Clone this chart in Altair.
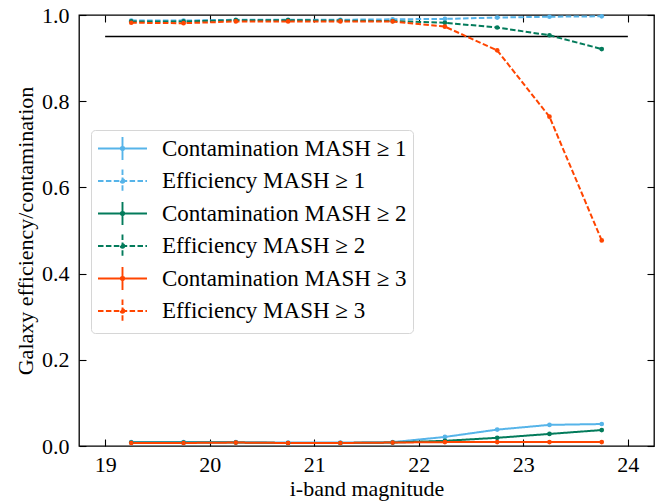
import altair as alt
import pandas as pd

# ---------------- data ----------------
mag = [19.25, 19.75, 20.25, 20.75, 21.25, 21.75, 22.25, 22.75, 23.25, 23.75]

cont_1 = [0.009, 0.009, 0.009, 0.008, 0.008, 0.009, 0.021, 0.038, 0.049, 0.051]
eff_1 = [0.987, 0.987, 0.989, 0.989, 0.989, 0.990, 0.991, 0.994, 0.996, 0.997]
cont_2 = [0.008, 0.008, 0.008, 0.007, 0.007, 0.008, 0.012, 0.019, 0.028, 0.037]
eff_2 = [0.985, 0.985, 0.988, 0.988, 0.987, 0.986, 0.982, 0.971, 0.953, 0.921]
cont_3 = [0.007, 0.007, 0.008, 0.007, 0.007, 0.008, 0.009, 0.009, 0.009, 0.009]
eff_3 = [0.982, 0.981, 0.985, 0.985, 0.985, 0.985, 0.973, 0.918, 0.764, 0.477]

series_names = [
    "Contamination MASH \u2265 1",
    "Efficiency MASH \u2265 1",
    "Contamination MASH \u2265 2",
    "Efficiency MASH \u2265 2",
    "Contamination MASH \u2265 3",
    "Efficiency MASH \u2265 3",
]
series_values = [cont_1, eff_1, cont_2, eff_2, cont_3, eff_3]

colors = ["#56B4E9", "#56B4E9", "#037b5b", "#037b5b", "#FF4500", "#FF4500"]
dashes = [[1, 0], [5.5, 2.4], [1, 0], [5.5, 2.4], [1, 0], [5.5, 2.4]]

x_ticks = [19, 20, 21, 22, 23, 24]
y_ticks = [0.0, 0.2, 0.4, 0.6, 0.8, 1.0]
x_domain = [18.75, 24.25]
y_domain = [0.0, 1.0]

ref_x = [19, 24]
ref_y = 0.95

# ---------------- tables ----------------
rows = []
for name, vals in zip(series_names, series_values):
    for m, v in zip(mag, vals):
        rows.append({"mag": m, "value": v, "series": name})
df = pd.DataFrame(rows)

ref_df = pd.DataFrame({"x": [ref_x[0]], "x2": [ref_x[1]], "y": [ref_y]})

FONT = "Liberation Serif"
FS = 22
LFS = 23
TICK = 7

x_scale = alt.Scale(domain=x_domain, nice=False, zero=False)
y_scale = alt.Scale(domain=y_domain, nice=False, zero=False)

# legend handle: horizontal line (49 px), vertical error bar (23 px), dot
legend_symbol = (
    "M-1,0H3.26M1.13,-1V1"
    "M1.28,0A0.15,0.15,0,1,1,0.98,0A0.15,0.15,0,1,1,1.28,0"
)

legend = alt.Legend(
    title=None,
    orient="none",
    legendX=12,
    legendY=115,
    symbolType=legend_symbol,
    symbolSize=529,
    symbolStrokeWidth=1.9,
    labelFont=FONT,
    labelFontSize=LFS,
    labelOffset=40,
    labelLimit=500,
    rowPadding=1.5,
    padding=6,
    fillColor="white",
    strokeColor="#d6d6d6",
    cornerRadius=4,
)

lines = alt.Chart(df).mark_line(
    strokeWidth=2,
    point=alt.OverlayMarkDef(filled=True, size=22),
).encode(
    x=alt.X(
        "mag:Q",
        scale=x_scale,
        axis=alt.Axis(
            orient="bottom",
            values=x_ticks,
            format="d",
            title="i-band magnitude",
            offset=-TICK,
            tickSize=TICK,
            labelPadding=8,
            titlePadding=3,
        ),
    ),
    y=alt.Y(
        "value:Q",
        scale=y_scale,
        axis=alt.Axis(
            orient="left",
            values=y_ticks,
            format=".1f",
            title="Galaxy efficiency/contamination",
            offset=-TICK,
            tickSize=TICK,
            labelPadding=10,
            titlePadding=4,
        ),
    ),
    color=alt.Color(
        "series:N",
        scale=alt.Scale(domain=series_names, range=colors),
        sort=series_names,
        legend=legend,
    ),
    strokeDash=alt.StrokeDash(
        "series:N",
        scale=alt.Scale(domain=series_names, range=dashes),
        sort=series_names,
        legend=legend,
    ),
    order=alt.Order("mag:Q"),
)

ref = alt.Chart(ref_df).mark_rule(color="black", strokeWidth=1.6).encode(
    x=alt.X(
        "x:Q",
        scale=x_scale,
        axis=alt.Axis(
            orient="top",
            values=x_ticks,
            labels=False,
            title=None,
            offset=-TICK,
            tickSize=TICK,
        ),
    ),
    x2="x2:Q",
    y=alt.Y(
        "y:Q",
        scale=y_scale,
        axis=alt.Axis(
            orient="right",
            values=y_ticks,
            labels=False,
            title=None,
            offset=-TICK,
            tickSize=TICK,
        ),
    ),
)

chart = (
    alt.layer(ref, lines)
    .resolve_axis(x="independent", y="independent")
    .properties(
        width=575,
        height=431,
        autosize=alt.AutoSizeParams(type="none"),
        padding={"left": 71, "top": 7, "right": 3, "bottom": 55},
    )
    .configure_view(stroke="black", strokeWidth=1.3)
    .configure_axis(
        domain=False,
        grid=False,
        tickColor="black",
        tickWidth=1.1,
        labelFont=FONT,
        labelFontSize=FS,
        labelColor="black",
        titleFont=FONT,
        titleFontSize=FS,
        titleFontWeight="normal",
        titleColor="black",
    )
)

chart.save("out.html", embed_options={"renderer": "svg", "actions": False})
